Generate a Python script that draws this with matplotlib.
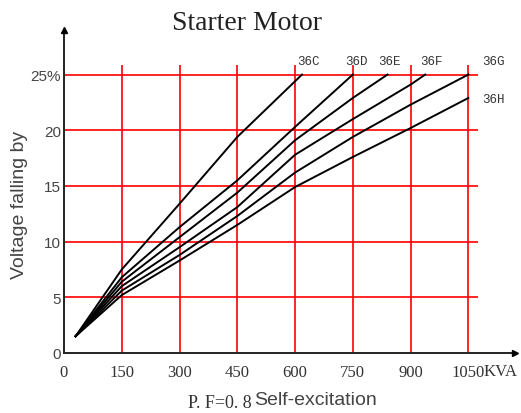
import matplotlib
matplotlib.use("Agg")
import matplotlib.pyplot as plt

# ---- data ----
series_names = ["36C", "36D", "36E", "36F", "36G", "36H"]
x_36C = [30, 150, 300, 450, 618]
y_36C = [1.5, 7.5, 13.4, 19.4, 25.0]
x_36D = [30, 150, 300, 450, 600, 750]
y_36D = [1.5, 6.8, 11.3, 15.5, 20.3, 25.0]
x_36E = [30, 150, 300, 450, 600, 750, 840]
y_36E = [1.5, 6.4, 10.4, 14.4, 19.1, 22.9, 25.0]
x_36F = [30, 150, 300, 450, 600, 750, 900, 938]
y_36F = [1.5, 6.0, 9.5, 13.1, 17.8, 21.0, 24.1, 25.0]
x_36G = [30, 150, 300, 450, 600, 750, 900, 1050]
y_36G = [1.5, 5.6, 8.8, 12.3, 16.2, 19.4, 22.3, 25.0]
x_36H = [30, 150, 300, 450, 600, 750, 900, 1050]
y_36H = [1.5, 5.2, 8.3, 11.5, 14.9, 17.6, 20.2, 22.9]

x_ticks = [0, 150, 300, 450, 600, 750, 900, 1050]
x_tick_labels = ["0", "150", "300", "450", "600", "750", "900", "1050"]
y_ticks = [0, 5, 10, 15, 20, 25]
y_tick_labels = ["0", "5", "10", "15", "20", "25%"]

label_pos = {"36C": (605, 26.2), "36D": (729, 26.2), "36E": (815, 26.2),
             "36F": (924, 26.2), "36G": (1085, 26.2), "36H": (1085, 22.8)}

xs = [x_36C, x_36D, x_36E, x_36F, x_36G, x_36H]
ys = [y_36C, y_36D, y_36E, y_36F, y_36G, y_36H]

W, H = 521, 414
fig = plt.figure(figsize=(W / 100, H / 100), dpi=100)
ax = fig.add_axes([64 / W, 1 - 354 / H, 451 / W, (354 - 31) / H])
ax.set_xlim(0, 1171)
ax.set_ylim(0, 29.0)

# red grid
for yv in y_ticks[1:]:
    ax.plot([0, 1075], [yv, yv], color="#ff0000", lw=1.2, zorder=1, solid_capstyle="butt")
for xv in x_ticks[1:]:
    ax.plot([xv, xv], [0, 25.9], color="#ff0000", lw=1.2, zorder=1, solid_capstyle="butt")

for name, xx, yy in zip(series_names, xs, ys):
    ax.plot(xx, yy, color="black", lw=1.4, zorder=3)
    lx, ly = label_pos[name]
    ax.text(lx, ly, name, fontsize=9, family="Liberation Mono", color="#333333",
            ha="left", va="center")

for s in ["top", "right"]:
    ax.spines[s].set_visible(False)
for s in ["left", "bottom"]:
    ax.spines[s].set_color("#222222")
    ax.spines[s].set_linewidth(1.4)

# arrow heads
ax.plot([0], [1], marker="^", transform=ax.transAxes, clip_on=False, color="black",
        markersize=5, zorder=5)
ax.plot([1], [0], marker=">", transform=ax.transAxes, clip_on=False, color="black",
        markersize=5, zorder=5)

ax.set_xticks(x_ticks)
ax.set_xticklabels(x_tick_labels, family="Liberation Serif", fontsize=12, color="#333333")
ax.set_yticks(y_ticks)
ax.set_yticklabels(y_tick_labels, family="Liberation Sans", fontsize=11, color="#444444")
ax.tick_params(axis="x", length=0, pad=8)
ax.tick_params(axis="y", length=0, pad=2)

fig.text(484 / W, 1 - 372 / H, "KVA", family="Liberation Serif", fontsize=12,
         color="#333333", ha="left", va="center")

fig.text(20 / W, 1 - 205 / H, "Voltage falling by", rotation=90, family="Liberation Sans",
         fontsize=14, color="#444444", ha="center", va="center")
fig.text(252 / W, 1 - 404 / H, "P. F=0. 8", family="Liberation Serif", fontsize=13,
         color="#333333", ha="right", va="center")
fig.text(254 / W, 1 - 401 / H, "Self-excitation", family="Liberation Sans", fontsize=14,
         color="#444444", ha="left", va="center")
fig.text(247 / W, 1 - 23 / H, "Starter Motor", family="Liberation Serif", fontsize=20,
         color="#222222", ha="center", va="center")

fig.savefig("out.png", dpi=100)
